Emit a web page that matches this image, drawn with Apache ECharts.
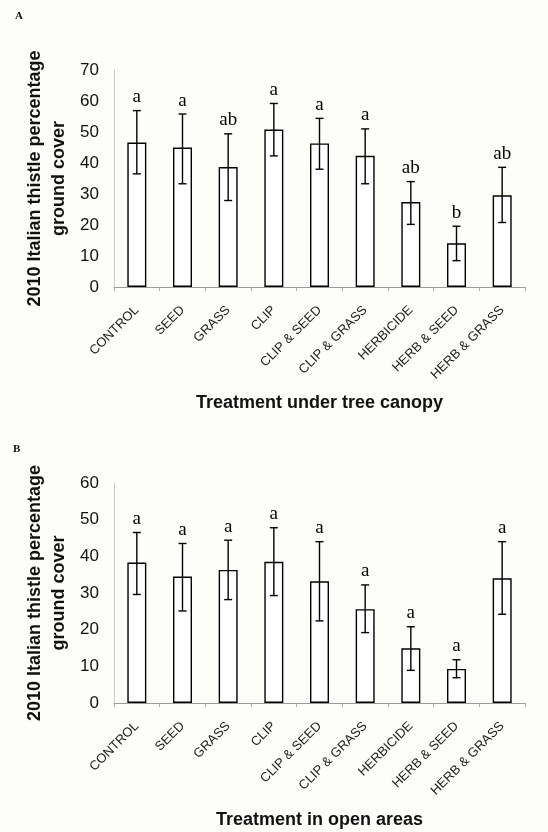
<!DOCTYPE html>
<html>
<head>
<meta charset="utf-8">
<script src="https://cdn.jsdelivr.net/npm/echarts@6/dist/echarts.min.js"></script>
<style>
html,body{margin:0;padding:0;background:#fdfdfa;}
#c{width:548px;height:832px;}
</style>
</head>
<body>
<div id="c"></div>
<script>
var categories = ['CONTROL','SEED','GRASS','CLIP','CLIP & SEED','CLIP & GRASS','HERBICIDE','HERB & SEED','HERB & GRASS'];

var canopyMean  = [46.6, 45.0, 38.7, 50.8, 46.3, 42.3, 27.4, 14.1, 29.6];
var canopyUpper = [56.9, 55.8, 49.4, 59.2, 54.4, 51.0, 34.0, 19.6, 38.6];
var canopyLower = [36.5, 33.3, 27.9, 42.3, 38.0, 33.3, 20.2, 8.5, 20.8];
var canopyLetters = ['a','a','ab','a','a','a','ab','b','ab'];

var openMean  = [38.3, 34.5, 36.3, 38.5, 33.2, 25.6, 14.9, 9.3, 34.0];
var openUpper = [46.5, 43.5, 44.4, 47.8, 44.0, 32.2, 20.8, 11.8, 44.0];
var openLower = [29.6, 25.1, 28.2, 29.3, 22.4, 19.2, 8.9, 6.9, 24.2];
var openLetters = ['a','a','a','a','a','a','a','a','a'];

var yTitle = '2010 Italian thistle percentage\nground cover';
var xTitleA = 'Treatment under tree canopy';
var xTitleB = 'Treatment in open areas';

var chart = echarts.init(document.getElementById('c'), null, {renderer:'canvas'});

function errData(up, lo){
  return categories.map(function(c,i){ return [i, up[i], lo[i]]; });
}
function makeRender(letters){
  return function(params, api){
    var x = api.value(0);
    var hi = api.coord([x, api.value(1)]);
    var lo = api.coord([x, api.value(2)]);
    var cap = 4;
    var st = {stroke:'#000', lineWidth:1.4};
    return {
      type:'group',
      children:[
        {type:'line', shape:{x1:hi[0], y1:hi[1], x2:lo[0], y2:lo[1]}, style:st},
        {type:'line', shape:{x1:hi[0]-cap, y1:hi[1], x2:hi[0]+cap, y2:hi[1]}, style:st},
        {type:'line', shape:{x1:lo[0]-cap, y1:lo[1], x2:lo[0]+cap, y2:lo[1]}, style:st},
        {type:'text', x:hi[0], y:hi[1]-4, style:{text:letters[params.dataIndex], fill:'#000',
          font:'19px "Liberation Serif", "Times New Roman", serif', align:'center', verticalAlign:'bottom'}}
      ]
    };
  };
}

var catAxis = function(gi, name, gap){
  return {
    type:'category', gridIndex:gi, data:categories,
    axisLine:{show:true, lineStyle:{color:'#999', width:1}},
    axisTick:{show:true, length:4, lineStyle:{color:'#aaa'}},
    axisLabel:{rotate:45, margin:21, fontSize:13, color:'#222', fontFamily:'Liberation Sans, Arial, sans-serif', interval:0},
    name:name, nameLocation:'middle', nameGap:gap, nameMoveOverlap:false,
    nameTextStyle:{fontSize:18, fontWeight:'bold', color:'#111', fontFamily:'Liberation Sans, Arial, sans-serif'}
  };
};
var valAxis = function(gi, max){
  return {
    type:'value', gridIndex:gi, min:0, max:max, interval:10,
    splitLine:{show:false},
    axisLine:{show:true, lineStyle:{color:'#ccc', width:1}},
    axisTick:{show:false},
    axisLabel:{fontSize:17, color:'#111', margin:15, fontFamily:'Liberation Sans, Arial, sans-serif'},
    name:yTitle, nameLocation:'middle', nameRotate:90, nameGap:43, nameMoveOverlap:false,
    nameTextStyle:{fontSize:18, fontWeight:'bold', color:'#111', lineHeight:24, fontFamily:'Liberation Sans, Arial, sans-serif'}
  };
};

chart.setOption({
  backgroundColor:'#fdfdfa',
  animation:false,
  title:[
    {text:'A', left:10, top:6, textStyle:{fontSize:11, fontWeight:'bold', fontFamily:'Liberation Serif, serif', color:'#111'}},
    {text:'B', left:8, top:439, textStyle:{fontSize:11, fontWeight:'bold', fontFamily:'Liberation Serif, serif', color:'#111'}}
  ],
  grid:[
    {left:114, top:70, width:411, height:217},
    {left:114, top:483, width:411, height:220}
  ],
  xAxis:[catAxis(0, xTitleA, 107), catAxis(1, xTitleB, 108)],
  yAxis:[valAxis(0, 70), valAxis(1, 60)],
  series:[
    {type:'bar', xAxisIndex:0, yAxisIndex:0, data:canopyMean, barWidth:19,
     itemStyle:{color:'#fff', borderColor:'#000', borderWidth:1.4}},
    {type:'custom', xAxisIndex:0, yAxisIndex:0, data:errData(canopyUpper, canopyLower),
     renderItem:makeRender(canopyLetters), z:5},
    {type:'bar', xAxisIndex:1, yAxisIndex:1, data:openMean, barWidth:19,
     itemStyle:{color:'#fff', borderColor:'#000', borderWidth:1.4}},
    {type:'custom', xAxisIndex:1, yAxisIndex:1, data:errData(openUpper, openLower),
     renderItem:makeRender(openLetters), z:5}
  ]
});
</script>
</body>
</html>
